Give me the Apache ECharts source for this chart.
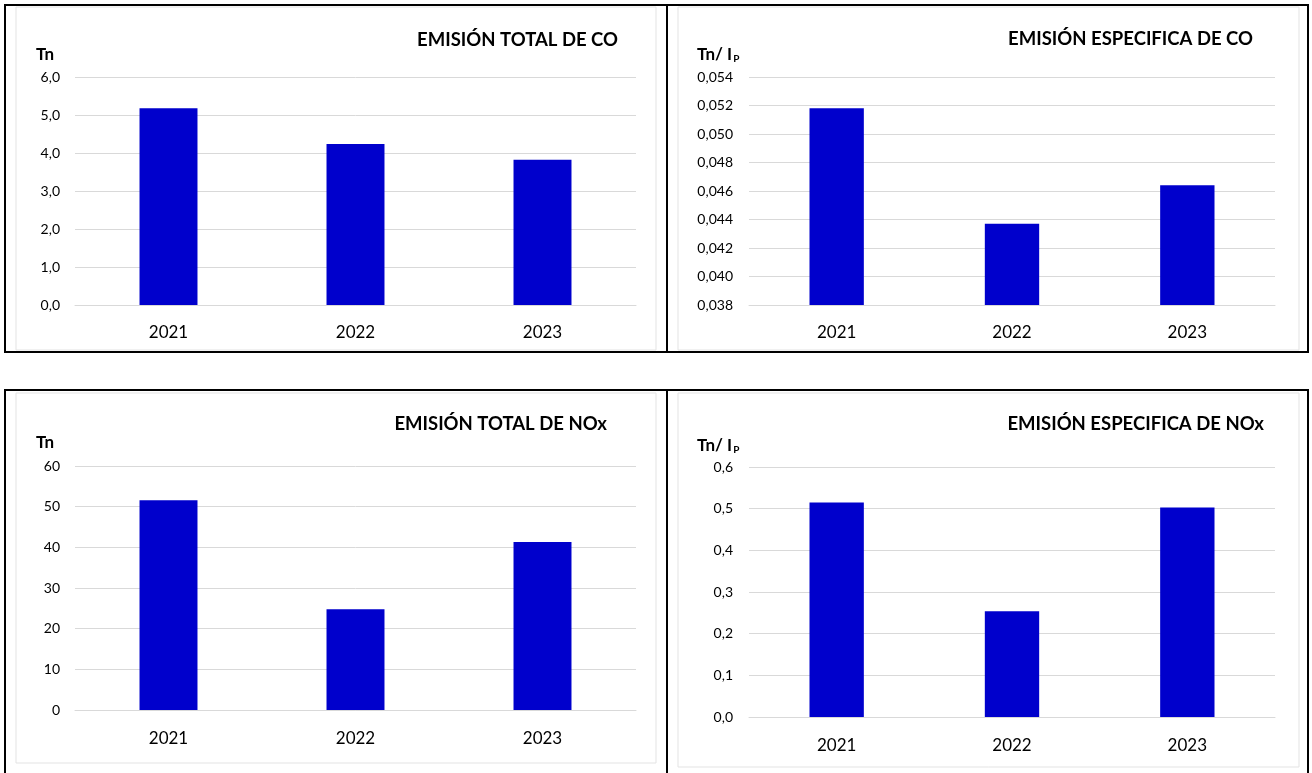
<!DOCTYPE html>
<html>
<head>
<meta charset="utf-8">
<script src="https://cdn.jsdelivr.net/npm/echarts@6/dist/echarts.min.js"></script>
<style>
  html, body { margin: 0; padding: 0; background: #fff; }
  #chart { width: 1312px; height: 773px; }
</style>
</head>
<body>
<div id="chart"></div>
<script>
const years = ['2021', '2022', '2023'];

const coTotal = [5.18, 4.24, 3.82];
const coSpecific = [0.0518, 0.0437, 0.0464];
const noxTotal = [51.6, 24.8, 41.3];
const noxSpecific = [0.515, 0.254, 0.503];

const titles = ['EMISIÓN TOTAL DE CO', 'EMISIÓN ESPECIFICA DE CO', 'EMISIÓN TOTAL DE NOx', 'EMISIÓN ESPECIFICA DE NOx'];

const barColor = '#0000cc';
const gridColor = '#d9d9d9';
const font = 'Lato, "Open Sans", sans-serif';

const comma = (digits) => (v) => v.toFixed(digits).replace('.', ',');

const chart = echarts.init(document.getElementById('chart'));

const grids = [
  { left: 75, right: 676, top: 77, bottom: 468 },
  { left: 749, right: 37, top: 77, bottom: 468 },
  { left: 75, right: 676, top: 466, bottom: 63 },
  { left: 749, right: 37, top: 467, bottom: 56 }
];

const yAxisDefs = [
  { min: 0, max: 6, interval: 1, fmt: comma(1) },
  { min: 0.038, max: 0.054, interval: 0.002, fmt: comma(3) },
  { min: 0, max: 60, interval: 10, fmt: comma(0) },
  { min: 0, max: 0.6, interval: 0.1, fmt: comma(1) }
];

const seriesData = [coTotal, coSpecific, noxTotal, noxSpecific];

const unitRich = {
  a: { fontFamily: font, fontWeight: 'bold', fontSize: 17, color: '#000', verticalAlign: 'top' },
  s: { fontFamily: font, fontWeight: 'bold', fontSize: 10, color: '#000', verticalAlign: 'top', padding: [8, 0, 0, 1] }
};

const titleStyle = { fontFamily: font, fontWeight: 'bold', fontSize: 18.5, color: '#000' };
const unitStyle = { fontFamily: font, fontWeight: 'bold', fontSize: 17, color: '#000', rich: unitRich };

chart.setOption({
  animation: false,
  title: [
    { text: titles[0], right: 694, top: 31, textStyle: titleStyle },
    { text: titles[1], right: 59, top: 30, textStyle: titleStyle },
    { text: titles[2], right: 705, top: 415, textStyle: titleStyle },
    { text: titles[3], right: 48, top: 415, textStyle: titleStyle },
    { text: 'Tn', left: 36, top: 46, textStyle: unitStyle },
    { text: '{a|Tn/ I}{s|P}', left: 697, top: 46, textStyle: unitStyle },
    { text: 'Tn', left: 36, top: 434, textStyle: unitStyle },
    { text: '{a|Tn/ I}{s|P}', left: 697, top: 437, textStyle: unitStyle }
  ].map((t) => Object.assign(t, { padding: 0 })),
  grid: grids,
  xAxis: grids.map((g, i) => ({
    type: 'category',
    gridIndex: i,
    data: years,
    axisLine: { show: true, lineStyle: { color: gridColor, width: 1 } },
    axisTick: { show: false },
    axisLabel: { fontFamily: font, fontSize: 17, color: '#000', margin: i < 2 ? 19 : 20 }
  })),
  yAxis: yAxisDefs.map((d, i) => ({
    type: 'value',
    gridIndex: i,
    min: d.min,
    max: d.max,
    interval: d.interval,
    axisLine: { show: false },
    axisTick: { show: false },
    splitLine: { lineStyle: { color: gridColor, width: 1 } },
    axisLabel: { fontFamily: font, fontSize: 14, color: '#000', margin: i % 2 ? 16 : 15, formatter: d.fmt }
  })),
  series: seriesData.map((data, i) => ({
    type: 'bar',
    xAxisIndex: i,
    yAxisIndex: i,
    data: data,
    barWidth: '31%',
    itemStyle: { color: barColor }
  })),
  graphic: [
    { type: 'rect', shape: { x: 16, y: 7, width: 640, height: 343 }, style: { fill: 'none', stroke: '#e3e3e3', lineWidth: 1 } },
    { type: 'rect', shape: { x: 678, y: 7, width: 621, height: 343 }, style: { fill: 'none', stroke: '#e3e3e3', lineWidth: 1 } },
    { type: 'rect', shape: { x: 16, y: 393, width: 640, height: 370 }, style: { fill: 'none', stroke: '#e3e3e3', lineWidth: 1 } },
    { type: 'rect', shape: { x: 678, y: 393, width: 621, height: 374 }, style: { fill: 'none', stroke: '#e3e3e3', lineWidth: 1 } },
    { type: 'rect', shape: { x: 5, y: 5, width: 662, height: 347 }, style: { fill: 'none', stroke: '#000', lineWidth: 2 } },
    { type: 'rect', shape: { x: 667, y: 5, width: 641, height: 347 }, style: { fill: 'none', stroke: '#000', lineWidth: 2 } },
    { type: 'rect', shape: { x: 5, y: 390, width: 662, height: 400 }, style: { fill: 'none', stroke: '#000', lineWidth: 2 } },
    { type: 'rect', shape: { x: 667, y: 390, width: 641, height: 400 }, style: { fill: 'none', stroke: '#000', lineWidth: 2 } }
  ]
});
</script>
</body>
</html>
